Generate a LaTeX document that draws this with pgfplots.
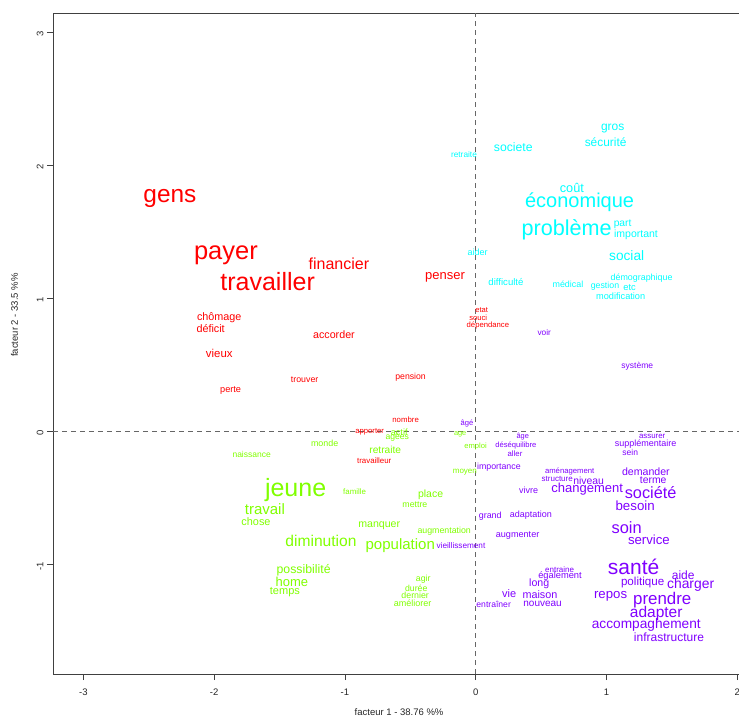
\documentclass[border=0pt]{standalone}
\usepackage{fontspec}
\setmainfont{Liberation Sans}
\usepackage{pgfplots}
\pgfplotsset{compat=1.18}
\usepackage{pgfplotstable}

\definecolor{rred}{HTML}{FF0000}
\definecolor{rgreen}{HTML}{80FF00}
\definecolor{rcyan}{HTML}{00FFFF}
\definecolor{rpurple}{HTML}{8000FF}

% word coordinates on the two factors, s = font size
\pgfplotstableread{
x y s label
-0.090 2.080 8.3 retraite
0.287 2.138 12.2 societe
1.047 2.271 12.0 gros
0.993 2.175 11.9 sécurité
0.735 1.829 12.7 coût
0.794 1.724 20.0 économique
0.695 1.511 21.6 problème
1.123 1.556 10.3 part
1.225 1.474 10.5 important
0.015 1.341 9.0 aider
1.154 1.316 13.7 social
0.231 1.123 9.6 difficulté
0.705 1.103 8.9 médical
1.268 1.153 8.9 démographique
0.988 1.090 8.8 gestion
1.177 1.077 9.3 etc
1.108 1.015 9.2 modification
}\cyanwords

\pgfplotstableread{
x y s label
-2.338 1.750 24.4 gens
-1.910 1.323 25.5 payer
-1.591 1.123 25.0 travailler
-1.046 1.256 16.0 financier
-0.235 1.158 13.0 penser
0.045 0.907 7.6 etat
0.019 0.852 7.6 souci
0.093 0.797 7.7 dépendance
-1.961 0.855 10.8 chômage
-2.027 0.772 10.8 déficit
-1.084 0.727 10.7 accorder
-1.961 0.584 11.4 vieux
-1.308 0.383 8.8 trouver
-0.498 0.408 8.7 pension
-1.874 0.303 9.2 perte
-0.536 0.083 7.8 nombre
-0.811 -0.008 7.7 apporter
-0.776 -0.226 7.9 travailleur
}\redwords

\pgfplotstableread{
x y s label
-0.119 -0.023 7.4 age
-0.001 -0.118 7.6 emploi
-0.083 -0.311 8.0 moyen
-1.713 -0.180 8.5 naissance
-1.155 -0.092 8.9 monde
-0.585 -0.008 9.1 actif
-0.600 -0.050 8.6 agées
-0.692 -0.143 10.2 retraite
-1.377 -0.444 25.0 jeune
-0.926 -0.456 7.9 famille
-0.345 -0.481 10.5 place
-0.465 -0.551 8.8 mettre
-1.612 -0.589 15.0 travail
-1.680 -0.684 10.9 chose
-0.738 -0.714 10.6 manquer
-0.241 -0.757 8.8 augmentation
-1.183 -0.827 15.6 diminution
-0.577 -0.859 15.0 population
-1.316 -1.045 12.3 possibilité
-1.405 -1.133 13.0 home
-1.459 -1.211 11.0 temps
-0.401 -1.115 8.8 agir
-0.455 -1.186 8.7 durée
-0.463 -1.238 8.8 dernier
-0.482 -1.295 9.0 améliorer
}\greenwords

\pgfplotstableread{
x y s label
0.524 0.739 8.3 voir
1.235 0.489 8.5 système
-0.067 0.053 7.6 âgé
0.359 -0.043 7.4 âge
0.307 -0.111 7.6 déséquilibre
0.300 -0.173 7.8 aller
0.177 -0.271 8.8 importance
1.349 -0.043 7.9 assurer
1.299 -0.100 9.0 supplémentaire
1.181 -0.160 8.5 sein
0.718 -0.301 7.7 aménagement
0.623 -0.361 8.0 structure
0.863 -0.371 10.4 niveau
1.301 -0.306 10.6 demander
1.357 -0.371 10.4 terme
0.404 -0.444 9.0 vivre
0.852 -0.438 13.0 changement
1.337 -0.464 16.3 société
1.219 -0.562 13.3 besoin
0.111 -0.639 8.9 grand
0.422 -0.634 9.0 adaptation
1.154 -0.724 16.4 soin
1.324 -0.820 13.2 service
0.320 -0.782 9.1 augmenter
-0.113 -0.865 8.2 vieillissement
0.641 -1.040 8.0 entraine
0.644 -1.090 9.3 également
0.485 -1.150 10.6 long
0.256 -1.220 11.0 vie
0.491 -1.228 10.8 maison
0.511 -1.303 10.0 nouveau
0.137 -1.301 8.6 entraîner
1.207 -1.020 21.0 santé
1.586 -1.083 12.0 aide
1.276 -1.138 11.6 politique
1.643 -1.158 13.9 charger
1.031 -1.241 13.2 repos
1.426 -1.271 16.9 prendre
1.380 -1.371 15.5 adapter
1.304 -1.459 13.7 accompaghement
1.477 -1.547 12.0 infrastructure
}\purplewords

\pgfplotsset{
  words/.style={
    only marks, mark=none,
    nodes near coords,
    point meta=explicit symbolic,
    visualization depends on={\thisrow{s}\as\fs},
    nodes near coords style={anchor=center, inner sep=0pt, text=#1,
      font=\fontsize{\fs pt}{\fs pt}\selectfont},
  },
}

\begin{document}
\begin{tikzpicture}
\begin{axis}[
  scale only axis,
  width=688pt, height=661pt,
  xmin=-3.232, xmax=2.028,
  ymin=-1.827, ymax=3.143,
  axis line style={black!75, line width=0.8pt},
  tick align=outside,
  xtick pos=bottom, ytick pos=left,
  xtick={-3,-2,-1,0,1,2},
  ytick={-1,0,1,2,3},
  major tick length=6pt,
  tick style={black!75, line width=0.8pt},
  /pgf/number format/assume math mode=true,
  ticklabel style={font=\fontsize{9.5}{9.5}\selectfont, text=black!85},
  xticklabel style={yshift=-5pt},
  yticklabel style={rotate=90, anchor=south, xshift=-2pt},
  xlabel={facteur 1 - 38.76 \%\%},
  ylabel={facteur 2 - 33.5 \%\%},
  label style={font=\fontsize{9.5}{9.5}\selectfont, text=black!85},
  xlabel style={at={(axis description cs:0.503,-0.058)}, anchor=center},
  ylabel style={at={(axis description cs:-0.056,0.543)}, anchor=center},
]
  % reference lines through the origin
  \addplot[black!60, line width=0.8pt, dash pattern=on 5pt off 4pt] coordinates {(-3.232,0) (2.028,0)};
  \addplot[black!60, line width=0.8pt, dash pattern=on 5pt off 4pt] coordinates {(0,-1.827) (0,3.143)};

  \addplot[words=rcyan] table[meta=label] {\cyanwords};
  \addplot[words=rred] table[meta=label] {\redwords};
  \addplot[words=rgreen] table[meta=label] {\greenwords};
  \addplot[words=rpurple] table[meta=label] {\purplewords};
\end{axis}
\pgfresetboundingbox
\path ([xshift=-53pt,yshift=-45pt]current axis.south west) rectangle ([xshift=-2pt,yshift=13pt]current axis.north east);
\end{tikzpicture}
\end{document}
